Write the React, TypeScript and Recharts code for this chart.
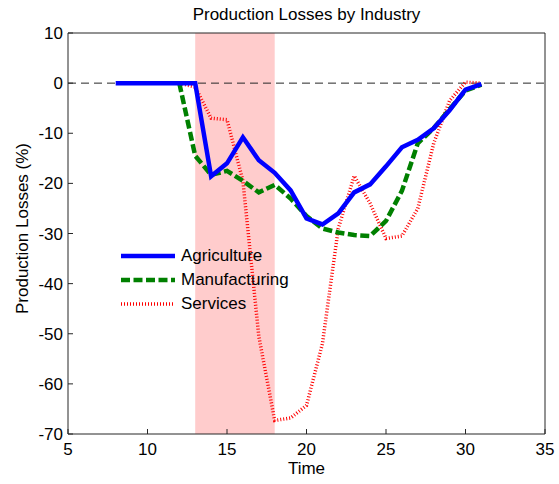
import React from 'react';
import {
  LineChart,
  Line,
  XAxis,
  YAxis,
  ReferenceArea,
  ReferenceLine,
  Legend,
} from 'recharts';

// Time periods (x) and production losses (%) for each industry
const TIME = [8, 9, 10, 11, 12, 13, 14, 15, 16, 17, 18, 19, 20, 21, 22, 23, 24, 25, 26, 27, 28, 29, 30, 31];
const AGRICULTURE = [0, 0, 0, 0, 0, 0, -18.6, -16, -10.8, -15.4, -17.9, -21.4, -27, -28.2, -26, -21.8, -20.2, -16.6, -12.8, -11.3, -9, -5.4, -1.3, -0.2];
const MANUFACTURING = [null, null, null, null, 0, -14.5, -18.3, -17.5, -19.5, -21.8, -20.3, -23, -26.5, -29, -29.8, -30.3, -30.5, -27.5, -21.5, -12, -9, -5.2, -1.5, -0.3];
const SERVICES = [null, null, null, null, 0, -0.8, -7, -7.3, -19.5, -50.5, -67.3, -66.8, -64.3, -52, -29, -18.5, -24, -31, -30.5, -25, -12, -3.5, 0.2, 0];

const X_TICKS = [5, 10, 15, 20, 25, 30, 35];
const Y_TICKS = [10, 0, -10, -20, -30, -40, -50, -60, -70];
const SHADED_PERIOD = [13, 18];

const SERIES = [
  { key: 'agriculture', name: 'Agriculture', color: '#0000ff', width: 4.5, dash: undefined as string | undefined },
  { key: 'manufacturing', name: 'Manufacturing', color: '#008000', width: 4.5, dash: '9 3.5' },
  { key: 'services', name: 'Services', color: '#ff0000', width: 3.5, dash: '1 2' },
];

const data = TIME.map((t, i) => ({
  time: t,
  agriculture: AGRICULTURE[i],
  manufacturing: MANUFACTURING[i],
  services: SERVICES[i],
}));

const FONT = '"Liberation Sans", Arial, Helvetica, sans-serif';
const AXIS_COLOR = '#262626';

const LegendContent = (props: any) => {
  const order = (k: any) => SERIES.findIndex((s) => s.key === k);
  const items = [...(props.payload ?? [])].sort((a: any, b: any) => order(a.dataKey) - order(b.dataKey));
  return (
    <div style={{ display: 'flex', flexDirection: 'column', fontFamily: FONT }}>
      {items.map((item: any) => {
        const s = SERIES[order(item.dataKey)];
        return (
          <div key={item.dataKey} style={{ display: 'flex', alignItems: 'center', height: 24 }}>
            <svg width={56} height={10} style={{ display: 'block' }}>
              <line x1={1} y1={5} x2={55} y2={5} stroke={item.color} strokeWidth={s?.width} strokeDasharray={s?.dash} />
            </svg>
            <span style={{ marginLeft: 5, fontSize: 17, lineHeight: '24px', color: '#000' }}>{item.value}</span>
          </div>
        );
      })}
    </div>
  );
};

const YLabel = (p: any) => {
  const vb = p.viewBox;
  const cx = vb.x + 22.5;
  const cy = vb.y + vb.height / 2 - 5;
  return (
    <text x={cx} y={cy} transform={`rotate(-90 ${cx} ${cy})`} textAnchor="middle" dominantBaseline="central" fontSize={17} fill="#000">
      {p.value}
    </text>
  );
};

export default function App() {
  // draw order: services underneath, agriculture on top
  const drawOrder = [SERIES[2], SERIES[1], SERIES[0]];
  return (
    <div style={{ position: 'absolute', left: 0, top: 0, width: 559, height: 484, background: '#fff', fontFamily: FONT }}>
      <div
        style={{
          position: 'absolute',
          left: 68,
          width: 477,
          top: 6,
          textAlign: 'center',
          fontSize: 17,
          lineHeight: '17px',
          color: '#000',
          zIndex: 2,
        }}
      >
        Production Losses by Industry
      </div>
      <LineChart width={559} height={484} data={data} margin={{ top: 32, right: 13, left: 0, bottom: 0 }}>
        <ReferenceArea x1={SHADED_PERIOD[0]} x2={SHADED_PERIOD[1]} fill="#ffcccc" fillOpacity={1} stroke="none" />
        <ReferenceLine y={0} stroke={AXIS_COLOR} strokeDasharray="8 5" strokeWidth={1} />
        <XAxis
          dataKey="time"
          type="number"
          domain={[5, 35]}
          ticks={X_TICKS}
          interval={0}
          allowDataOverflow
          height={50}
          tickSize={-5}
          tickMargin={14}
          stroke={AXIS_COLOR}
          tick={{ fill: '#000', fontSize: 17 }}
          label={{ value: 'Time', position: 'insideBottom', offset: 10, fill: '#000', fontSize: 17 }}
        />
        <XAxis
          xAxisId="top"
          orientation="top"
          dataKey="time"
          type="number"
          domain={[5, 35]}
          ticks={X_TICKS}
          interval={0}
          allowDataOverflow
          height={1}
          tickSize={-5}
          stroke={AXIS_COLOR}
          tick={false}
        />
        <YAxis
          type="number"
          domain={[-70, 10]}
          ticks={Y_TICKS}
          interval={0}
          allowDataOverflow
          width={68}
          tickSize={-5}
          tickMargin={10}
          stroke={AXIS_COLOR}
          tick={{ fill: '#000', fontSize: 17 }}
          label={{ value: 'Production Losses (%)', content: YLabel }}
        />
        <YAxis
          yAxisId="right"
          orientation="right"
          type="number"
          domain={[-70, 10]}
          ticks={Y_TICKS}
          interval={0}
          allowDataOverflow
          width={1}
          tickSize={-5}
          stroke={AXIS_COLOR}
          tick={false}
        />
        {drawOrder.map((s) => (
          <Line
            key={s.key}
            type="linear"
            dataKey={s.key}
            name={s.name}
            stroke={s.color}
            strokeWidth={s.width}
            strokeDasharray={s.dash}
            dot={false}
            activeDot={false}
            connectNulls={false}
            isAnimationActive={false}
          />
        ))}
        <Legend
          layout="vertical"
          align="center"
          verticalAlign="middle"
          content={LegendContent}
          wrapperStyle={{ left: 120, top: 244, width: 220 }}
        />
      </LineChart>
    </div>
  );
}
